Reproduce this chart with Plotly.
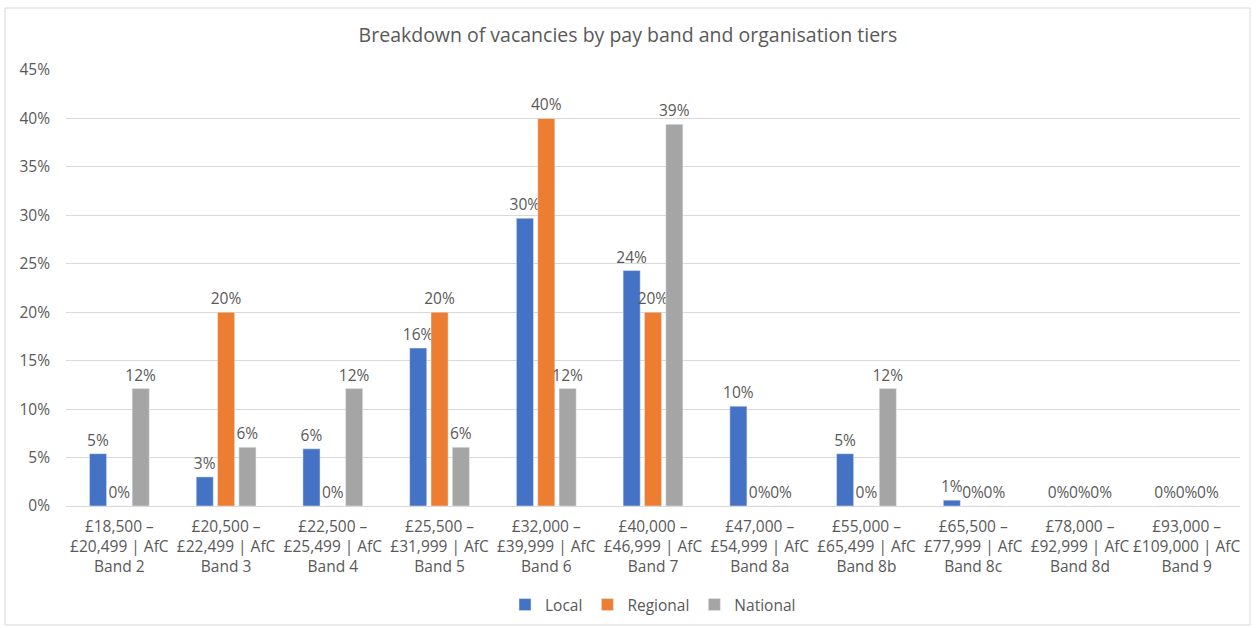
import plotly.graph_objects as go

categories = [
    "£18,500 –<br>£20,499 | AfC<br>Band 2",
    "£20,500 –<br>£22,499 | AfC<br>Band 3",
    "£22,500 –<br>£25,499 | AfC<br>Band 4",
    "£25,500 –<br>£31,999 | AfC<br>Band 5",
    "£32,000 –<br>£39,999 | AfC<br>Band 6",
    "£40,000 –<br>£46,999 | AfC<br>Band 7",
    "£47,000 –<br>£54,999 | AfC<br>Band 8a",
    "£55,000 –<br>£65,499 | AfC<br>Band 8b",
    "£65,500 –<br>£77,999 | AfC<br>Band 8c",
    "£78,000 –<br>£92,999 | AfC<br>Band 8d",
    "£93,000 –<br>£109,000 | AfC<br>Band 9",
]
local = [0.054, 0.030, 0.059, 0.163, 0.297, 0.243, 0.103, 0.054, 0.006, 0.0, 0.0]
regional = [0.0, 0.20, 0.0, 0.20, 0.40, 0.20, 0.0, 0.0, 0.0, 0.0, 0.0]
national = [0.1212, 0.0606, 0.1212, 0.0606, 0.1212, 0.3939, 0.0, 0.1212, 0.0, 0.0, 0.0]

series = [("Local", local, "#4472C4"), ("Regional", regional, "#ED7D31"), ("National", national, "#A5A5A5")]

FONT = "Open Sans, Liberation Sans, sans-serif"
GREY = "#595959"
FS = 15.5

fig = go.Figure()
for name, vals, col in series:
    fig.add_trace(go.Bar(
        x=categories, y=vals, name=name, marker_color=col,
        texttemplate="%{y:.0%}", textposition="outside",
        textfont=dict(size=FS, color=GREY, family=FONT),
        cliponaxis=False,
    ))

fig.update_layout(
    width=1256, height=628,
    margin=dict(l=66, r=16, t=70, b=122, autoexpand=False),
    paper_bgcolor="white", plot_bgcolor="white",
    barmode="group", bargap=0.4, bargroupgap=0.2,
    font=dict(family=FONT, color=GREY, size=FS),
    title=dict(text="Breakdown of vacancies by pay band and organisation tiers",
               x=0.5, xanchor="center", y=1 - 35 / 628, yanchor="middle",
               font=dict(size=19.5, color=GREY, family=FONT)),
    legend=dict(orientation="h", x=0.5, xanchor="center", y=(506 - 605) / 436, yanchor="middle",
                font=dict(size=FS, color=GREY), traceorder="normal", itemwidth=30),
    uniformtext=dict(mode="show", minsize=FS),
)
fig.update_yaxes(range=[0, 0.45], dtick=0.05, tickformat=".0%", gridcolor="#D9D9D9",
                 zeroline=False, showline=False, ticks="", ticklabelstandoff=15,
                 automargin=False, tickfont=dict(size=FS, color=GREY))
fig.update_xaxes(showline=True, linecolor="#D9D9D9", ticks="", tickangle=0,
                 ticklabelstandoff=6, automargin=False, tickfont=dict(size=FS, color=GREY))

fig.add_shape(type="rect", xref="paper", yref="paper",
              x0=(5 - 66) / 1174, x1=(1250 - 66) / 1174,
              y0=(506 - 625) / 436, y1=(506 - 8) / 436,
              line=dict(color="#D9D9D9", width=1), layer="below")

fig.write_html("out.html")
